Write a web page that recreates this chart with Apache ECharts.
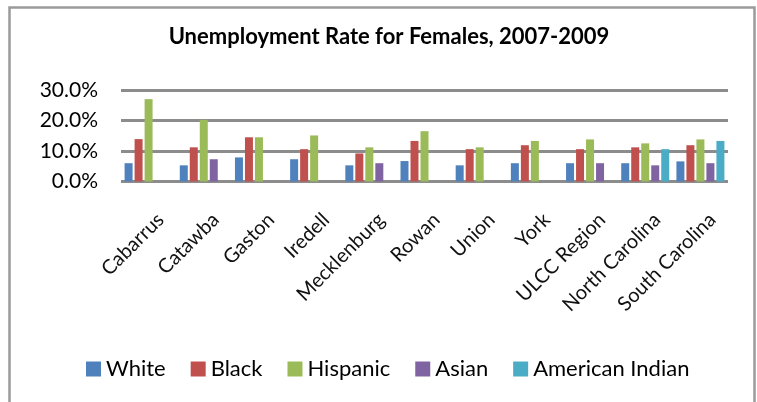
<!DOCTYPE html>
<html>
<head>
<meta charset="utf-8">
<script src="https://cdn.jsdelivr.net/npm/echarts@6/dist/echarts.min.js"></script>
<style>
  html, body { margin: 0; padding: 0; background: #fff; }
  #chart { width: 757px; height: 402px; }
</style>
</head>
<body>
<div id="chart"></div>
<script>
// Female unemployment rate (%) by area and race/ethnicity, 2007-2009
const areas = ['Cabarrus', 'Catawba', 'Gaston', 'Iredell', 'Mecklenburg', 'Rowan',
               'Union', 'York', 'ULCC Region', 'North Carolina', 'South Carolina'];
const seriesNames = ['White', 'Black', 'Hispanic', 'Asian', 'American Indian'];
const white    = [6.0, 5.3, 7.9, 7.3, 5.3, 6.7, 5.3, 6.0, 6.0, 6.0, 6.6];
const black    = [13.9, 11.2, 14.5, 10.6, 9.2, 13.3, 10.6, 11.9, 10.6, 11.2, 11.9];
const hispanic = [27.0, 20.2, 14.5, 15.1, 11.2, 16.5, 11.2, 13.3, 13.8, 12.5, 13.8];
const asian    = ['-', 7.3, '-', '-', 6.0, '-', '-', '-', 6.0, 5.3, 6.0];
const amIndian = ['-', '-', '-', '-', '-', '-', '-', '-', '-', 10.6, 13.3];
const yTicks   = [0, 10, 20, 30];

const colors = ['#4F81BD', '#C0504D', '#9BBB59', '#8064A2', '#4BACC6'];
const font = 'Lato, "Open Sans", sans-serif';

const chart = echarts.init(document.getElementById('chart'), null, { renderer: 'canvas' });

const valueSets = [white, black, hispanic, asian, amIndian];
const plotTop = 90, plotBottom = 220.5;

chart.setOption({
  animation: false,
  color: colors,
  graphic: [{
    type: 'rect',
    shape: { x: 9.5, y: 7.5, width: 745, height: 430 },
    style: { fill: 'none', stroke: '#9a9a9a', lineWidth: 2.5 },
    silent: true
  }],
  title: {
    text: 'Unemployment Rate for Females, 2007-2009',
    left: 384,
    top: 21,
    textAlign: 'center',
    textStyle: { fontFamily: font, fontWeight: 'bold', fontSize: 22, color: '#000' }
  },
  legend: {
    left: 81,
    top: 353,
    itemWidth: 15,
    itemHeight: 15,
    itemGap: 25,
    icon: 'rect',
    textStyle: { fontFamily: font, fontSize: 22, color: '#000' },
    data: seriesNames
  },
  grid: [
    { left: 121, right: 29, top: plotTop, bottom: plotBottom },
    // same band nudged right so the rotated area names end just past each group
    { left: 133, right: 17, top: plotTop, bottom: plotBottom }
  ],
  xAxis: [
    {
      type: 'category',
      gridIndex: 0,
      data: areas,
      axisLine: { show: false },
      axisTick: { show: false },
      axisLabel: { show: false }
    },
    {
      type: 'category',
      gridIndex: 1,
      data: areas,
      axisLine: { show: false },
      axisTick: { show: false },
      axisLabel: {
        rotate: 45,
        margin: 35,
        fontFamily: font,
        fontSize: 20,
        color: '#111',
        interval: 0
      }
    }
  ],
  yAxis: [
    {
      type: 'value',
      gridIndex: 0,
      min: yTicks[0],
      max: yTicks[yTicks.length - 1],
      interval: 10,
      axisLine: { show: false },
      axisTick: { show: false },
      splitLine: { lineStyle: { color: '#8c8c8c', width: 3 } },
      axisLabel: {
        margin: 23,
        fontFamily: font,
        fontSize: 21,
        color: '#000',
        formatter: v => v.toFixed(1) + '%'
      }
    },
    {
      type: 'value',
      gridIndex: 1,
      show: false,
      min: 0,
      max: 30
    }
  ],
  series: seriesNames.map((name, i) => ({
    name,
    type: 'bar',
    xAxisIndex: 0,
    yAxisIndex: 0,
    data: valueSets[i],
    barWidth: 8,
    barGap: '25%',
    itemStyle: { color: colors[i] }
  }))
});
</script>
</body>
</html>
